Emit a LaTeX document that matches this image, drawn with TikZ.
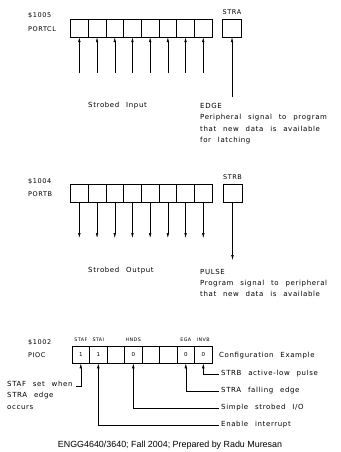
\documentclass[tikz,border=0pt]{standalone}
\usepackage{fontspec}
\newfontfamily\cad[LetterSpace=9,WordSpace=2.4]{DejaVu Sans}
\newfontfamily\footfont{Liberation Sans}
\usetikzlibrary{arrows.meta,positioning}

\begin{document}
\begin{tikzpicture}[x=1pt, y=-1pt,
    cell/.style={draw, line width=0.5pt, minimum width=17.7pt, minimum height=18pt, inner sep=0pt,
                 font=\cad\fontsize{5.5}{6}\selectfont},
    txt/.style={anchor=west, inner sep=0pt, align=left, font=\cad\fontsize{7}{11.4}\selectfont},
    reg/.style={txt, font=\cad\fontsize{6.5}{7}\selectfont},
    small/.style={inner sep=0pt, font=\cad\fontsize{4.8}{5}\selectfont},
    sig/.style={-{Latex[length=5pt,width=2.6pt]}, line width=0.5pt}]
    \useasboundingbox (0,0) rectangle (340,452);

    % strobed input
    \node[reg] (adra) at (28,16) {\$1005};
    \node[reg] (portcl) at (28,29) {PORTCL};
    \foreach \i in {1,...,8} {
        \node[cell] (c\i) at (61.65+17.7*\i,28) {};
        \coordinate (ci\i) at (61.65+17.7*\i,73);
        \draw[sig] (ci\i) -- (c\i);
    }
    \node[cell, minimum width=19pt] (stra) at (232,28) {};
    \node[reg, anchor=center] (stral) at (232,12) {STRA};
    \coordinate (edge) at (232,97);
    \draw[sig] (edge) -- (stra);
    \node[txt] (sin) at (88,106) {Strobed Input};
    \node[txt] (edgel) at (200,123.5) {EDGE\\Peripheral signal to program\\that new data is available\\for latching};

    % strobed output
    \node[reg] (adrb) at (28,182) {\$1004};
    \node[reg] (portb) at (28,194) {PORTB};
    \foreach \i in {1,...,8} {
        \node[cell] (b\i) at (61.65+17.7*\i,193.5) {};
        \coordinate (bo\i) at (61.65+17.7*\i,238);
        \draw[sig] (b\i) -- (bo\i);
    }
    \node[cell, minimum width=19pt] (strb) at (232.5,193.5) {};
    \node[reg, anchor=center] (strbl) at (232.5,177) {STRB};
    \coordinate (pulse) at (232.5,260);
    \draw[sig] (strb) -- (pulse);
    \node[txt] (sout) at (88,271) {Strobed Output};
    \node[txt] (pulsel) at (200,283) {PULSE\\Program signal to peripheral\\that new data is available};

    % PIOC
    \node[reg] (adrp) at (28,343) {\$1002};
    \node[reg] (pioc) at (28,355) {PIOC};
    \foreach \i/\v in {1/1,2/1,3/,4/0,5/,6/,7/0,8/0}
        \node[cell, minimum height=16.5pt] (p\i) at (63.3+17.5*\i,354.8) {\v};
    \foreach \i/\n in {1/STAF,2/STAI,4/HNDS,7/EGA,8/INVB}
        \node[small] (n\i) at (63.3+17.5*\i,339.5) {\n};
    \node[txt] (conf) at (219,355.5) {Configuration Example};
    \node[txt] (l8) at (221,374) {STRB active-low pulse};
    \node[txt] (l7) at (221,391) {STRA falling edge};
    \node[txt] (l4) at (221,408) {Simple strobed I/O};
    \node[txt] (l2) at (221,425) {Enable interrupt};
    \node[txt] (stafl) at (7,395) {STAF set when\\STRA edge\\occurs};
    \coordinate (hook) at (76,386);
    \draw[sig] ([xshift=-2pt]l8.west) -| (p8);
    \draw[sig] ([xshift=-2pt]l7.west) -| (p7);
    \draw[sig] ([xshift=-2pt]l4.west) -| (p4);
    \draw[sig] ([xshift=-2pt]l2.west) -| (p2);
    \draw[sig] (hook) -| (p1);

    \node[font=\footfont\fontsize{8.9}{10}\selectfont] (foot) at (170,445)
        {ENGG4640/3640; Fall 2004; Prepared by Radu Muresan};
\end{tikzpicture}
\end{document}
